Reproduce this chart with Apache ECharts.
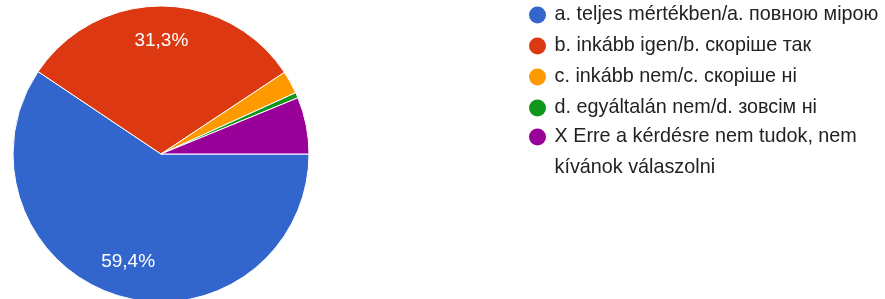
<!DOCTYPE html>
<html>
<head>
<meta charset="utf-8">
<script src="https://cdn.jsdelivr.net/npm/echarts@6/dist/echarts.min.js"></script>
<style>
  html, body { margin: 0; padding: 0; background: #fff; }
  #main { width: 885px; height: 299px; }
</style>
</head>
<body>
<div id="main"></div>
<script>
  const categories = [
    'a. teljes mértékben/a. повною мірою',
    'b. inkább igen/b. скоріше так',
    'c. inkább nem/c. скоріше ні',
    'd. egyáltalán nem/d. зовсім ні',
    'X Erre a kérdésre nem tudok, nem kívánok válaszolni',
  ];
  const percents = [59.4, 31.3, 2.5, 0.6, 6.2];
  const colors = ['#3366cc', '#dc3912', '#ff9900', '#109618', '#990099'];

  const font = '"Liberation Sans", Arial, sans-serif';
  const myChart = echarts.init(document.getElementById('main'));

  const pieData = categories.map((name, i) => ({ name, value: percents[i] }));

  // the last legend entry wraps onto two lines
  function wrapName(name) {
    if (name.indexOf('X Erre') === 0) {
      return '\nX Erre a kérdésre nem tudok, nem\nkívánok válaszolni';
    }
    return name;
  }

  const legendCommon = {
    orient: 'vertical',
    left: 527,
    padding: 0,
    icon: 'circle',
    itemWidth: 24,
    itemHeight: 19,
    selectedMode: false,
    formatter: wrapName,
    textStyle: {
      color: '#222',
      fontSize: 19.8,
      fontFamily: font,
    },
  };

  const options = {
    color: colors,
    animation: false,
    legend: [
      {
        ...legendCommon,
        top: 4.5,
        itemGap: 10,
        data: categories.slice(0, 4),
        textStyle: { ...legendCommon.textStyle, lineHeight: 20 },
      },
      {
        ...legendCommon,
        top: 90.5,
        data: categories.slice(4),
        textStyle: { ...legendCommon.textStyle, lineHeight: 31 },
      },
    ],
    series: [
      {
        type: 'pie',
        center: [161, 154],
        radius: [0, 148],
        startAngle: 0,
        clockwise: true,
        silent: true,
        data: pieData,
        itemStyle: { borderColor: '#fff', borderWidth: 1 },
        label: { show: false },
        labelLine: { show: false },
      },
      {
        // transparent ring only used to place the percentage labels
        type: 'pie',
        center: [161, 154],
        radius: [72, 148],
        startAngle: 0,
        clockwise: true,
        silent: true,
        legendHoverLink: false,
        data: pieData,
        itemStyle: { color: 'rgba(0,0,0,0)', borderWidth: 0 },
        label: {
          show: true,
          position: 'inside',
          color: '#fff',
          fontSize: 19,
          fontFamily: font,
          formatter: (p) => (p.value >= 10 ? p.value.toFixed(1).replace('.', ',') + '%' : ''),
        },
        labelLine: { show: false },
      },
    ],
  };

  myChart.setOption(options);
</script>
</body>
</html>
